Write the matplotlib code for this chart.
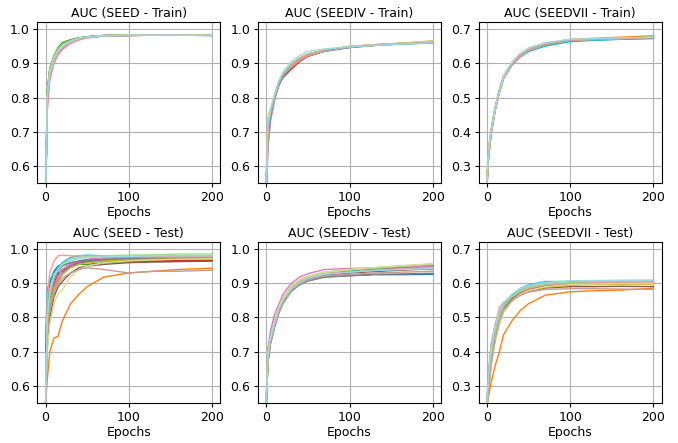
import numpy as np
import matplotlib
matplotlib.use("Agg")
import matplotlib.pyplot as plt

epochs = [0, 2, 5, 10, 15, 20, 30, 40, 50, 70, 100, 130, 160, 200]

colors = ["#1f77b4", "#ff7f0e", "#2ca02c", "#d62728", "#9467bd", "#8c564b",
          "#e377c2", "#7f7f7f", "#bcbd22", "#17becf", "#ff9896", "#98df8a",
          "#dbdb8d", "#c49c94", "#9edae5"]

titles = ["AUC (SEED - Train)", "AUC (SEEDIV - Train)", "AUC (SEEDVII - Train)",
          "AUC (SEED - Test)", "AUC (SEEDIV - Test)", "AUC (SEEDVII - Test)"]

seed_train = [
    [0.50, 0.81, 0.880, 0.918, 0.940, 0.953, 0.966, 0.973, 0.977, 0.981, 0.982, 0.982, 0.982, 0.982],
    [0.50, 0.80, 0.875, 0.915, 0.938, 0.952, 0.965, 0.972, 0.977, 0.980, 0.982, 0.983, 0.982, 0.982],
    [0.52, 0.82, 0.885, 0.922, 0.946, 0.960, 0.969, 0.974, 0.978, 0.981, 0.982, 0.982, 0.983, 0.982],
    [0.50, 0.79, 0.870, 0.912, 0.936, 0.950, 0.964, 0.972, 0.976, 0.980, 0.981, 0.982, 0.982, 0.981],
    [0.50, 0.80, 0.872, 0.914, 0.937, 0.951, 0.965, 0.973, 0.977, 0.981, 0.982, 0.982, 0.982, 0.982],
    [0.50, 0.81, 0.878, 0.917, 0.941, 0.954, 0.966, 0.973, 0.977, 0.980, 0.982, 0.982, 0.982, 0.982],
    [0.48, 0.76, 0.850, 0.900, 0.925, 0.940, 0.958, 0.968, 0.974, 0.979, 0.981, 0.982, 0.982, 0.982],
    [0.50, 0.80, 0.874, 0.916, 0.939, 0.952, 0.965, 0.972, 0.976, 0.980, 0.982, 0.982, 0.982, 0.982],
    [0.51, 0.82, 0.882, 0.920, 0.942, 0.955, 0.967, 0.973, 0.977, 0.981, 0.982, 0.983, 0.982, 0.982],
    [0.50, 0.80, 0.876, 0.915, 0.938, 0.951, 0.964, 0.971, 0.976, 0.980, 0.981, 0.982, 0.982, 0.981],
    [0.49, 0.78, 0.860, 0.905, 0.930, 0.945, 0.960, 0.969, 0.975, 0.980, 0.982, 0.982, 0.982, 0.982],
    [0.50, 0.81, 0.880, 0.918, 0.941, 0.954, 0.966, 0.973, 0.977, 0.981, 0.982, 0.982, 0.983, 0.982],
    [0.50, 0.80, 0.872, 0.913, 0.936, 0.950, 0.964, 0.972, 0.976, 0.980, 0.982, 0.982, 0.982, 0.982],
    [0.49, 0.79, 0.866, 0.910, 0.934, 0.948, 0.963, 0.971, 0.976, 0.980, 0.981, 0.982, 0.982, 0.982],
    [0.50, 0.80, 0.870, 0.912, 0.936, 0.950, 0.964, 0.972, 0.977, 0.980, 0.982, 0.982, 0.982, 0.981],
]

seediv_train = [
    [0.55, 0.70, 0.750, 0.800, 0.840, 0.866, 0.895, 0.913, 0.925, 0.937, 0.948, 0.953, 0.957, 0.961],
    [0.56, 0.74, 0.765, 0.805, 0.845, 0.868, 0.897, 0.914, 0.926, 0.938, 0.949, 0.954, 0.958, 0.965],
    [0.55, 0.71, 0.755, 0.806, 0.846, 0.870, 0.898, 0.915, 0.927, 0.938, 0.948, 0.953, 0.957, 0.962],
    [0.54, 0.72, 0.760, 0.800, 0.835, 0.858, 0.883, 0.905, 0.920, 0.935, 0.946, 0.952, 0.956, 0.960],
    [0.53, 0.66, 0.735, 0.795, 0.838, 0.864, 0.893, 0.912, 0.924, 0.936, 0.948, 0.953, 0.957, 0.961],
    [0.55, 0.70, 0.748, 0.800, 0.841, 0.866, 0.896, 0.914, 0.926, 0.937, 0.948, 0.954, 0.957, 0.962],
    [0.52, 0.65, 0.730, 0.792, 0.836, 0.862, 0.892, 0.911, 0.924, 0.936, 0.947, 0.953, 0.957, 0.962],
    [0.55, 0.71, 0.752, 0.801, 0.842, 0.867, 0.896, 0.914, 0.926, 0.937, 0.948, 0.953, 0.958, 0.961],
    [0.56, 0.73, 0.760, 0.804, 0.844, 0.869, 0.898, 0.915, 0.927, 0.938, 0.949, 0.954, 0.958, 0.964],
    [0.54, 0.69, 0.745, 0.798, 0.838, 0.862, 0.890, 0.909, 0.922, 0.935, 0.946, 0.952, 0.956, 0.959],
    [0.55, 0.73, 0.760, 0.803, 0.842, 0.866, 0.890, 0.908, 0.922, 0.936, 0.948, 0.953, 0.957, 0.962],
    [0.55, 0.72, 0.757, 0.803, 0.844, 0.868, 0.897, 0.914, 0.926, 0.938, 0.949, 0.954, 0.958, 0.963],
    [0.56, 0.74, 0.768, 0.806, 0.845, 0.869, 0.898, 0.915, 0.927, 0.938, 0.949, 0.954, 0.958, 0.965],
    [0.55, 0.71, 0.753, 0.801, 0.841, 0.866, 0.895, 0.913, 0.925, 0.937, 0.948, 0.953, 0.957, 0.962],
    [0.54, 0.72, 0.762, 0.808, 0.848, 0.874, 0.905, 0.922, 0.935, 0.942, 0.948, 0.952, 0.956, 0.960],
]

seedvii_train = [
    [0.25, 0.34, 0.400, 0.470, 0.520, 0.560, 0.600, 0.625, 0.640, 0.655, 0.667, 0.670, 0.672, 0.675],
    [0.26, 0.35, 0.405, 0.472, 0.522, 0.562, 0.602, 0.628, 0.643, 0.658, 0.670, 0.673, 0.676, 0.680],
    [0.25, 0.34, 0.402, 0.470, 0.521, 0.561, 0.601, 0.626, 0.641, 0.656, 0.668, 0.671, 0.673, 0.677],
    [0.24, 0.33, 0.395, 0.466, 0.516, 0.556, 0.596, 0.622, 0.638, 0.654, 0.666, 0.669, 0.671, 0.674],
    [0.25, 0.34, 0.398, 0.469, 0.519, 0.559, 0.599, 0.624, 0.640, 0.655, 0.667, 0.670, 0.672, 0.676],
    [0.25, 0.34, 0.401, 0.471, 0.521, 0.561, 0.600, 0.625, 0.640, 0.655, 0.667, 0.670, 0.672, 0.674],
    [0.23, 0.32, 0.390, 0.462, 0.514, 0.555, 0.597, 0.623, 0.639, 0.655, 0.666, 0.668, 0.670, 0.673],
    [0.25, 0.34, 0.400, 0.470, 0.520, 0.560, 0.600, 0.625, 0.640, 0.655, 0.667, 0.670, 0.672, 0.676],
    [0.26, 0.35, 0.404, 0.472, 0.522, 0.562, 0.601, 0.626, 0.641, 0.656, 0.668, 0.671, 0.673, 0.677],
    [0.25, 0.34, 0.399, 0.468, 0.517, 0.556, 0.594, 0.618, 0.634, 0.650, 0.663, 0.667, 0.670, 0.672],
    [0.24, 0.33, 0.395, 0.466, 0.516, 0.555, 0.595, 0.620, 0.637, 0.654, 0.667, 0.670, 0.672, 0.675],
    [0.25, 0.34, 0.401, 0.470, 0.520, 0.560, 0.600, 0.625, 0.640, 0.655, 0.667, 0.670, 0.672, 0.676],
    [0.25, 0.35, 0.403, 0.471, 0.521, 0.561, 0.601, 0.626, 0.641, 0.656, 0.668, 0.671, 0.673, 0.676],
    [0.24, 0.33, 0.396, 0.467, 0.518, 0.558, 0.598, 0.624, 0.639, 0.655, 0.667, 0.670, 0.672, 0.675],
    [0.25, 0.34, 0.400, 0.469, 0.519, 0.559, 0.603, 0.628, 0.645, 0.660, 0.670, 0.672, 0.674, 0.676],
]

seed_test = [
    [0.70, 0.85, 0.900, 0.935, 0.950, 0.955, 0.960, 0.962, 0.965, 0.968, 0.970, 0.972, 0.975, 0.975],
    [0.55, 0.62, 0.700, 0.740, 0.745, 0.790, 0.840, 0.868, 0.890, 0.918, 0.930, 0.935, 0.940, 0.944],
    [0.55, 0.82, 0.880, 0.920, 0.930, 0.935, 0.950, 0.955, 0.955, 0.960, 0.963, 0.963, 0.964, 0.965],
    [0.55, 0.78, 0.850, 0.900, 0.925, 0.940, 0.955, 0.960, 0.962, 0.965, 0.965, 0.965, 0.966, 0.967],
    [0.55, 0.75, 0.830, 0.880, 0.910, 0.930, 0.950, 0.960, 0.965, 0.970, 0.970, 0.972, 0.972, 0.973],
    [0.55, 0.72, 0.800, 0.860, 0.890, 0.905, 0.930, 0.945, 0.950, 0.955, 0.960, 0.962, 0.963, 0.965],
    [0.55, 0.77, 0.840, 0.890, 0.920, 0.940, 0.955, 0.965, 0.970, 0.975, 0.975, 0.975, 0.976, 0.976],
    [0.55, 0.80, 0.870, 0.910, 0.935, 0.950, 0.960, 0.965, 0.968, 0.970, 0.972, 0.972, 0.972, 0.973],
    [0.55, 0.76, 0.840, 0.880, 0.905, 0.925, 0.945, 0.955, 0.960, 0.965, 0.968, 0.970, 0.970, 0.970],
    [0.74, 0.88, 0.910, 0.930, 0.945, 0.960, 0.975, 0.980, 0.982, 0.980, 0.978, 0.980, 0.980, 0.980],
    [0.55, 0.85, 0.930, 0.965, 0.980, 0.982, 0.980, 0.980, 0.980, 0.978, 0.978, 0.978, 0.977, 0.978],
    [0.55, 0.80, 0.860, 0.920, 0.940, 0.955, 0.970, 0.975, 0.978, 0.980, 0.982, 0.983, 0.985, 0.985],
    [0.55, 0.70, 0.780, 0.840, 0.870, 0.880, 0.920, 0.940, 0.950, 0.960, 0.965, 0.968, 0.970, 0.972],
    [0.55, 0.75, 0.820, 0.870, 0.900, 0.915, 0.930, 0.940, 0.945, 0.940, 0.930, 0.935, 0.935, 0.938],
    [0.55, 0.80, 0.880, 0.920, 0.940, 0.955, 0.965, 0.972, 0.975, 0.977, 0.978, 0.980, 0.980, 0.980],
]

seediv_test = [
    [0.55, 0.68, 0.730, 0.780, 0.820, 0.848, 0.880, 0.898, 0.908, 0.918, 0.922, 0.925, 0.925, 0.926],
    [0.55, 0.69, 0.735, 0.785, 0.825, 0.852, 0.887, 0.905, 0.916, 0.927, 0.933, 0.938, 0.943, 0.948],
    [0.56, 0.70, 0.740, 0.788, 0.828, 0.856, 0.890, 0.908, 0.918, 0.930, 0.936, 0.941, 0.946, 0.952],
    [0.55, 0.68, 0.732, 0.782, 0.822, 0.850, 0.885, 0.903, 0.914, 0.925, 0.931, 0.936, 0.940, 0.944],
    [0.55, 0.69, 0.736, 0.786, 0.826, 0.854, 0.888, 0.906, 0.917, 0.928, 0.934, 0.939, 0.944, 0.949],
    [0.54, 0.67, 0.725, 0.776, 0.816, 0.845, 0.880, 0.900, 0.912, 0.924, 0.930, 0.934, 0.938, 0.942],
    [0.56, 0.71, 0.760, 0.810, 0.838, 0.868, 0.900, 0.918, 0.928, 0.940, 0.943, 0.945, 0.948, 0.950],
    [0.54, 0.67, 0.722, 0.772, 0.812, 0.840, 0.876, 0.895, 0.906, 0.918, 0.922, 0.926, 0.927, 0.929],
    [0.56, 0.71, 0.742, 0.790, 0.830, 0.858, 0.892, 0.910, 0.920, 0.932, 0.940, 0.945, 0.950, 0.956],
    [0.55, 0.70, 0.745, 0.790, 0.825, 0.850, 0.882, 0.900, 0.912, 0.926, 0.935, 0.938, 0.940, 0.942],
    [0.55, 0.69, 0.737, 0.786, 0.826, 0.854, 0.888, 0.906, 0.917, 0.928, 0.933, 0.938, 0.942, 0.946],
    [0.56, 0.70, 0.740, 0.789, 0.829, 0.857, 0.891, 0.909, 0.919, 0.931, 0.939, 0.944, 0.949, 0.955],
    [0.56, 0.70, 0.742, 0.790, 0.830, 0.858, 0.892, 0.910, 0.920, 0.932, 0.940, 0.946, 0.951, 0.957],
    [0.54, 0.67, 0.724, 0.774, 0.814, 0.842, 0.878, 0.897, 0.909, 0.921, 0.926, 0.930, 0.932, 0.935],
    [0.55, 0.69, 0.736, 0.785, 0.824, 0.850, 0.884, 0.902, 0.914, 0.926, 0.932, 0.937, 0.940, 0.943],
]

seedvii_test = [
    [0.25, 0.31, 0.385, 0.455, 0.500, 0.528, 0.558, 0.574, 0.584, 0.594, 0.598, 0.600, 0.600, 0.600],
    [0.24, 0.27, 0.310, 0.360, 0.400, 0.450, 0.490, 0.520, 0.540, 0.565, 0.575, 0.578, 0.580, 0.585],
    [0.25, 0.31, 0.390, 0.458, 0.504, 0.532, 0.560, 0.576, 0.585, 0.594, 0.600, 0.602, 0.602, 0.603],
    [0.25, 0.30, 0.375, 0.448, 0.496, 0.525, 0.555, 0.572, 0.582, 0.592, 0.597, 0.598, 0.598, 0.598],
    [0.25, 0.30, 0.380, 0.452, 0.500, 0.530, 0.560, 0.577, 0.587, 0.597, 0.602, 0.603, 0.604, 0.604],
    [0.24, 0.29, 0.365, 0.440, 0.490, 0.520, 0.550, 0.566, 0.576, 0.586, 0.590, 0.590, 0.591, 0.590],
    [0.25, 0.32, 0.395, 0.462, 0.508, 0.535, 0.563, 0.580, 0.590, 0.600, 0.605, 0.607, 0.608, 0.608],
    [0.25, 0.30, 0.378, 0.450, 0.498, 0.528, 0.557, 0.574, 0.584, 0.594, 0.598, 0.600, 0.600, 0.600],
    [0.24, 0.29, 0.360, 0.432, 0.482, 0.516, 0.548, 0.566, 0.577, 0.588, 0.594, 0.596, 0.597, 0.597],
    [0.26, 0.34, 0.420, 0.480, 0.520, 0.540, 0.565, 0.585, 0.595, 0.605, 0.605, 0.605, 0.605, 0.605],
    [0.25, 0.33, 0.420, 0.480, 0.530, 0.545, 0.560, 0.575, 0.585, 0.595, 0.600, 0.601, 0.601, 0.602],
    [0.25, 0.31, 0.388, 0.457, 0.503, 0.532, 0.561, 0.578, 0.588, 0.598, 0.603, 0.605, 0.606, 0.606],
    [0.24, 0.29, 0.362, 0.436, 0.486, 0.518, 0.550, 0.568, 0.579, 0.590, 0.596, 0.598, 0.599, 0.599],
    [0.24, 0.29, 0.368, 0.442, 0.492, 0.522, 0.550, 0.565, 0.574, 0.582, 0.584, 0.584, 0.583, 0.582],
    [0.25, 0.33, 0.410, 0.475, 0.518, 0.542, 0.568, 0.584, 0.593, 0.602, 0.607, 0.608, 0.608, 0.609],
]

panels = [seed_train, seediv_train, seedvii_train, seed_test, seediv_test, seedvii_test]
ylims = [(0.55, 1.02), (0.55, 1.02), (0.25, 0.72), (0.55, 1.02), (0.55, 1.02), (0.25, 0.72)]

plt.rcParams["font.size"] = 9
fig, axes = plt.subplots(2, 3, figsize=(6.78, 4.43), dpi=100)
fig.subplots_adjust(left=0.055, right=0.976, top=0.95, bottom=0.09, wspace=0.205, hspace=0.366)

for ax, data, title, ylim in zip(axes.flat, panels, titles, ylims):
    for curve, c in zip(data, colors):
        ax.plot(epochs, curve, color=c, lw=1)
    ax.set_title(title, fontsize=9, pad=4)
    ax.set_xlabel("Epochs", labelpad=1.5)
    ax.set_ylim(*ylim)
    ax.set_xticks([0, 100, 200])
    ax.tick_params(length=3, pad=2.5)
    ax.grid(True)

fig.savefig("out.png", dpi=100)
